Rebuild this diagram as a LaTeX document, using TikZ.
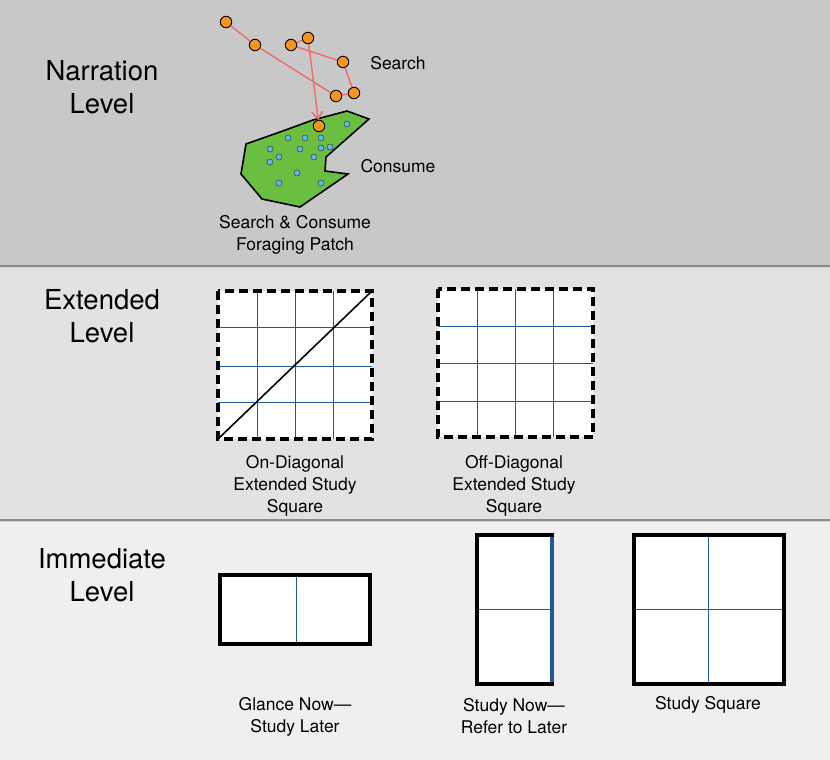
\documentclass[tikz,border=0pt]{standalone}
\usepackage{fontspec}
\setmainfont{TeX Gyre Heros}
\usetikzlibrary{arrows.meta}
\definecolor{bandtop}{HTML}{C8C8C8}
\definecolor{bandmid}{HTML}{E2E2E2}
\definecolor{bandlow}{HTML}{EFEFEF}
\definecolor{sepgray}{HTML}{8C8C8C}
\definecolor{dotorange}{HTML}{F7941D}
\definecolor{trailred}{HTML}{F06A6A}
\definecolor{patchgreen}{HTML}{6ABF40}
\definecolor{foodblue}{HTML}{5DB6F2}
\definecolor{gridblue}{HTML}{1F5A94}
\begin{document}
\begin{tikzpicture}[x=1pt,y=-1pt,
        level/.style={font=\fontsize{27.5}{33}\selectfont,align=center},
        lbl/.style={font=\fontsize{17.5}{22}\selectfont,align=center},
        dot/.style={circle,draw=black,line width=0.9pt,fill=dotorange,inner sep=0pt,minimum size=11.5pt},
        food/.style={circle,draw=black!75,line width=0.5pt,fill=foodblue,inner sep=0pt,minimum size=6pt},
        trail/.style={draw=trailred,line width=1.4pt},
        gridline/.style={draw=gridblue,line width=0.9pt},
        extbox/.style={line width=3.5pt,dash pattern=on 9pt off 5pt},
        studybox/.style={line width=4pt}]
        \useasboundingbox (0,0) rectangle (830,760);
        \fill[bandtop] (0,0) rectangle (830,266);
        \fill[bandmid] (0,266) rectangle (830,520);
        \fill[bandlow] (0,520) rectangle (830,760);
        \draw[sepgray,line width=1.5pt] (0,266)--(830,266);
        \draw[sepgray!40,line width=1pt] (0,267.5)--(830,267.5);
        \draw[sepgray,line width=1.5pt] (0,520)--(830,520);
        \draw[sepgray!40,line width=1pt] (0,521.5)--(830,521.5);
        \node[level] (narr) at (102,87) {Narration\\Level};
        \node[level] (ext) at (102,316) {Extended\\Level};
        \node[level] (imm) at (102,575) {Immediate\\Level};
        \draw[line width=1.6pt,fill=patchgreen,line join=miter] (246,144)--(280,132)--(313,120)--(347,111)--(369,119)--(326,157)--(325,171)--(348,174)--(300,207)--(262,199)--(241,174)--cycle;
        \foreach \p [count=\i] in {{347,124},{288,138},{305,138},{321,138},{270,149},{300,149},{321,148},{330,147},{279,157},{314,157},{270,162},{297,173},{279,183},{321,183}}
            \node[food] (f\i) at (\p) {};
        \foreach \p [count=\i] in {{226,22},{255,45},{291,45},{308,38},{343,62},{336,96},{354,93},{319,126}}
            \node[dot] (d\i) at (\p) {};
        \draw[trail] (d1)--(d2)--(d6)--(d7)--(d5)--(d3)--(d4);
        \draw[trail,-{Straight Barb[length=7pt,width=11pt]}] (d4)--(d8);
        \node[lbl] (search) at (398,63) {Search};
        \node[lbl] (consume) at (398,166) {Consume};
        \node[lbl] (patch) at (295,235) {Search \& Consume\\Foraging Patch};
        \fill[white] (218,291) rectangle (372,439);
        \foreach \x in {257,295,333} \draw[gridline] (\x,291)--(\x,439);
        \foreach \y in {327,366,402} \draw[gridline] (218,\y)--(372,\y);
        \draw[line width=1.6pt] (218,439)--(372,291);
        \draw[extbox] (218,291) rectangle (372,439);
        \node[lbl] (ondiag) at (295,486) {On-Diagonal\\Extended Study\\Square};
        \fill[white] (438,289) rectangle (593,437);
        \foreach \x in {477,515,553} \draw[gridline] (\x,289)--(\x,437);
        \foreach \y in {326,363,401} \draw[gridline] (438,\y)--(593,\y);
        \draw[extbox] (438,289) rectangle (593,437);
        \node[lbl] (offdiag) at (514,486) {Off-Diagonal\\Extended Study\\Square};
        \fill[white] (220,575) rectangle (370,644);
        \draw[gridline] (296,575)--(296,644);
        \draw[studybox] (220,575) rectangle (370,644);
        \node[lbl] (glance) at (295,717) {Glance Now—\\Study Later};
        \fill[white] (477,535) rectangle (552,684);
        \draw[gridline] (477,609)--(552,609);
        \draw[studybox] (477,535) rectangle (552,684);
        \draw[gridblue,line width=4pt] (552,537)--(552,682);
        \node[lbl] (studynow) at (514,716) {Study Now—\\Refer to Later};
        \fill[white] (634,535) rectangle (784,684);
        \draw[gridline] (708,535)--(708,684);
        \draw[gridline] (634,609)--(784,609);
        \draw[studybox] (634,535) rectangle (784,684);
        \node[lbl] (square) at (708,705) {Study Square};
        \end{tikzpicture}
\end{document}
